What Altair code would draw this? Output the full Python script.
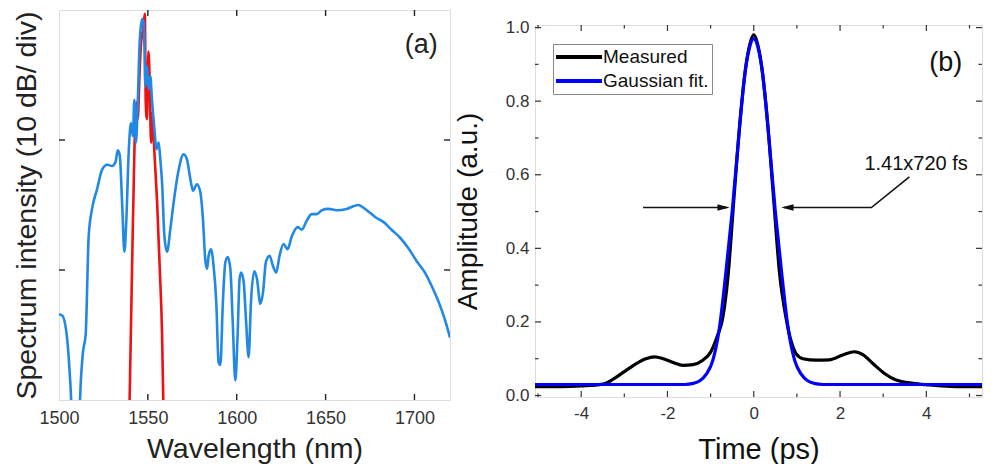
import altair as alt
import pandas as pd

FONT = "Liberation Sans"

# ---------------- panel (a): optical spectrum ----------------
spec_wl = [1500, 1501.8, 1504.6, 1506.5, 1507.3, 1511.4, 1512.3, 1513.5, 1515, 1516.7,
           1518.6, 1521.4, 1524.2, 1527.1, 1529.9, 1531.8, 1533.1, 1534.2, 1535.5, 1536.8,
           1537.9, 1539.2, 1540.5, 1541.6, 1542.4, 1543.3, 1544.3, 1545.4, 1546.7, 1547.7,
           1548.6, 1549.5, 1550.5, 1551.4, 1552.3, 1553.7, 1554.8, 1556.1, 1557.0, 1558.0,
           1559.3, 1560.8, 1562.6, 1564.5, 1567.3, 1570.1, 1572.0, 1573.9, 1575.4, 1577.6,
           1579.5, 1581.0, 1582.3, 1583.3, 1584.2, 1585.5, 1587.0, 1588.5, 1589.8, 1590.8,
           1592.2, 1593.6, 1595.0, 1596.4, 1597.7, 1599.2, 1600.5, 1601.6, 1602.5, 1603.9,
           1605.2, 1606.7, 1608.0, 1609.9, 1611.4, 1613.3, 1614.8, 1616.4, 1618.5, 1620.4,
           1622.2, 1624.1, 1626.3, 1628.6, 1631.0, 1634.4, 1636.6, 1639.4, 1642.2, 1645.1,
           1647.9, 1651.6, 1656.3, 1661.9, 1665.6, 1668.4, 1671.2, 1675.0, 1678.7, 1682.5,
           1687.1, 1691.8, 1696.5, 1701.2, 1705.9, 1710.6, 1714.3, 1717.1, 1720.0]
spec_db = [-23.4, -23.5, -25.3, -29.0, -31.0, -31.0, -28.5, -26.3, -25.0, -17.4,
           -15.3, -13.8, -12.3, -11.9, -12.0, -11.7, -10.8, -11.2, -14.8, -18.6,
           -16.1, -11.0, -8.7, -9.7, -6.9, -10.2, -7.1, -2.5, -0.7, -1.0,
           -5.9, -4.3, -6.1, -5.1, -6.9, -9.2, -10.7, -10.2, -11.5, -13.3,
           -17.4, -18.6, -16.9, -14.8, -12.3, -11.1, -11.5, -13.0, -13.9, -13.4,
           -14.0, -16.1, -19.2, -19.9, -18.9, -18.4, -19.7, -22.5, -27.1, -27.3,
           -22.5, -19.4, -19.0, -19.9, -23.8, -28.5, -25.0, -20.7, -20.2, -20.9,
           -23.8, -26.7, -22.5, -20.1, -20.7, -22.6, -21.7, -19.4, -18.9, -19.7,
           -20.2, -18.9, -18.0, -18.4, -17.4, -16.7, -16.9, -16.2, -15.7, -15.7,
           -15.4, -15.3, -15.4, -15.3, -15.1, -15.0, -15.2, -15.6, -16.0, -16.3,
           -16.9, -17.5, -18.3, -19.3, -20.2, -21.5, -22.7, -23.8, -25.2]

seed_wl = [1539.6, 1541.1, 1542.4, 1543.5, 1544.3, 1545.4, 1546.2, 1547.3, 1548.3, 1548.8,
           1549.5, 1550.3, 1551.0, 1551.8, 1552.5, 1553.7, 1555.2, 1556.7, 1558.0, 1558.8]
seed_db = [-31.0, -19.9, -11.0, -7.1, -8.4, -4.6, -2.5, -1.5, -0.3, -7.1,
           -8.4, -3.2, -5.3, -10.2, -7.9, -11.0, -14.8, -19.9, -25.0, -31.0]

a_xlabels = [1500, 1550, 1600, 1650, 1700]
a_xticks = [1550, 1600, 1650, 1700]
a_yticks_left = [-10, -20]
a_yticks_right = [-10, -20]
a_tag = ["(a)"]
a_tag_pos = [1703.8, -2.7]

# ---------------- panel (b): autocorrelation ----------------
meas_t = [-5.07, -4.5, -4.0, -3.5, -3.25, -3.0, -2.75, -2.5, -2.3, -2.1,
          -1.87, -1.64, -1.41, -1.18, -1.0, -0.85, -0.72, -0.6, -0.45, -0.3,
          -0.15, 0.0, 0.15, 0.3, 0.45, 0.6, 0.75, 0.87, 0.98, 1.14,
          1.45, 1.75, 2.06, 2.33, 2.53, 2.76, 3.03, 3.30, 3.69, 4.07,
          4.84, 5.55]
meas_amp = [0.024, 0.024, 0.026, 0.031, 0.045, 0.065, 0.085, 0.100, 0.105, 0.100,
            0.090, 0.082, 0.084, 0.096, 0.118, 0.160, 0.210, 0.320, 0.550, 0.770,
            0.920, 0.980, 0.920, 0.770, 0.550, 0.330, 0.210, 0.146, 0.114, 0.100,
            0.096, 0.097, 0.110, 0.119, 0.111, 0.087, 0.060, 0.042, 0.033, 0.029,
            0.024, 0.024]

fit_t = [-5.07, -1.6, -1.4, -1.25, -1.1, -0.95, -0.8, -0.65, -0.5, -0.35, -0.2, -0.1, 0.0,
         0.1, 0.2, 0.35, 0.5, 0.65, 0.8, 0.95, 1.1, 1.25, 1.4, 1.6, 5.55]
fit_amp = [0.030, 0.030, 0.033, 0.040, 0.058, 0.095, 0.180, 0.330, 0.500, 0.700, 0.880, 0.945, 0.970,
           0.945, 0.880, 0.700, 0.500, 0.330, 0.180, 0.095, 0.058, 0.040, 0.033, 0.030, 0.030]

series_names = ["Measured", "Gaussian fit."]
series_colors = ["#000000", "#0000ff"]

b_xlabels = [-4, -2, 0, 2, 4]
b_xmajor = [-4, -2, 0, 2, 4]
b_xminor = [-5, -3, -1, 1, 3, 5]
b_ylabels = [0.0, 0.2, 0.4, 0.6, 0.8, 1.0]
b_ymajor = [0.0, 0.2, 0.4, 0.6, 0.8, 1.0]
b_yminor = [0.1, 0.3, 0.5, 0.7, 0.9]

# annotation: FWHM arrows and label
arrow_left_t = [-2.565, -0.62]
arrow_right_t = [0.70, 2.727, 3.607]
arrow_right_amp = [0.511, 0.511, 0.594]
arrow_amp = 0.511
head_t = [-0.70, 0.78]
head_shape = ["M1,0L-1,-0.55L-1,0.55Z", "M-1,0L1,-0.55L1,0.55Z"]
note_text = ["1.41x720 fs"]
note_pos = [2.565, 0.612]
b_tag = ["(b)"]
b_tag_pos = [4.45, 0.903]

# ---------------- layout constants ----------------
AW, AH = 391, 390
BW, BH = 447, 372
AXIS_COLOR = "#222222"

ax = alt.Scale(domain=[1500, 1720], nice=False, zero=False)
ay = alt.Scale(domain=[-30, 0], nice=False, zero=False)
bx = alt.Scale(domain=[-5.07, 5.29], nice=False, zero=False)
by = alt.Scale(domain=[-0.004, 1.007], nice=False, zero=False)

PLAIN = "'' + datum.value"

AX_AXIS = alt.Axis(values=a_xlabels, title="Wavelength (nm)", labelExpr=PLAIN,
                   ticks=False, domain=False, grid=False, labelFlush=False, labelOverlap=False,
                   labelFont=FONT, labelFontSize=18, labelColor="#333333", labelPadding=9,
                   titleFont=FONT, titleFontSize=28.5, titleFontWeight="normal",
                   titleColor="#222222", titlePadding=7)
AY_AXIS = alt.Axis(labels=False, ticks=False, domain=False, grid=False,
                   title="Spectrum intensity (10 dB/ div)",
                   titleFont=FONT, titleFontSize=28.5, titleFontWeight="normal",
                   titleColor="#222222", titlePadding=18)
BX_AXIS = alt.Axis(values=b_xlabels, title="Time (ps)", labelExpr=PLAIN,
                   ticks=False, domain=False, grid=False, labelFlush=False, labelOverlap=False,
                   labelFont=FONT, labelFontSize=17, labelColor="#333333", labelPadding=8,
                   titleFont=FONT, titleFontSize=29, titleFontWeight="normal",
                   titleColor="#111111", titlePadding=14)
BY_AXIS = alt.Axis(values=b_ylabels, format=".1f", title="Amplitude (a.u.)",
                   ticks=False, domain=False, grid=False, labelFlush=False, labelOverlap=False,
                   labelFont=FONT, labelFontSize=17, labelColor="#333333", labelPadding=6,
                   titleFont=FONT, titleFontSize=28, titleFontWeight="normal",
                   titleColor="#111111", titlePadding=23)


def X(field, panel):
    if panel == "a":
        return alt.X(field, type="quantitative", scale=ax, axis=AX_AXIS)
    return alt.X(field, type="quantitative", scale=bx, axis=BX_AXIS)


def Y(field, panel):
    if panel == "a":
        return alt.Y(field, type="quantitative", scale=ay, axis=AY_AXIS)
    return alt.Y(field, type="quantitative", scale=by, axis=BY_AXIS)


def xtick_layers(vals, panel, length, H, color=AXIS_COLOR, width=1.4):
    d = pd.DataFrame({"v": vals})
    base = alt.Chart(d).mark_rule(color=color, strokeWidth=width)
    bot = base.encode(x=X("v", panel), y=alt.value(H), y2=alt.value(H - length))
    top = base.encode(x=X("v", panel), y=alt.value(0), y2=alt.value(length))
    return [bot, top]


def ytick_layer(vals, panel, length, W, side, color=AXIS_COLOR, width=1.4):
    d = pd.DataFrame({"v": vals})
    base = alt.Chart(d).mark_rule(color=color, strokeWidth=width)
    if side == "left":
        return base.encode(y=Y("v", panel), x=alt.value(0), x2=alt.value(length))
    return base.encode(y=Y("v", panel), x=alt.value(W), x2=alt.value(W - length))


# ---------------- panel (a) chart ----------------
spec_df = pd.DataFrame({"wl": spec_wl, "db": spec_db})
seed_df = pd.DataFrame({"wl": seed_wl, "db": seed_db})

a_seed = alt.Chart(seed_df).mark_line(color="#ee1111", strokeWidth=2.6, clip=True,
                                      interpolate="monotone").encode(x=X("wl", "a"), y=Y("db", "a"))
a_spec = alt.Chart(spec_df).mark_line(color="#2288e6", strokeWidth=2.6, clip=True,
                                      interpolate="monotone").encode(x=X("wl", "a"), y=Y("db", "a"))

a_tag_df = pd.DataFrame({"x": [a_tag_pos[0]], "y": [a_tag_pos[1]], "t": a_tag})
a_tag_layer = alt.Chart(a_tag_df).mark_text(font=FONT, fontSize=27, color="#222222").encode(
    x=X("x", "a"), y=Y("y", "a"), text="t:N")

panel_a = alt.layer(
    a_seed, a_spec, a_tag_layer,
    *xtick_layers(a_xticks, "a", 6, AH),
    ytick_layer(a_yticks_left, "a", 6, AW, "left"),
    ytick_layer(a_yticks_right, "a", 6, AW, "right"),
).properties(width=AW, height=AH)

# ---------------- panel (b) chart ----------------
color_scale = alt.Scale(domain=series_names, range=series_colors)

meas_df = pd.DataFrame({"t": meas_t, "amp": meas_amp, "series": series_names[0]})
fit_df = pd.DataFrame({"t": fit_t, "amp": fit_amp, "series": series_names[1]})

legend = alt.Legend(orient="none", legendX=18, legendY=34, title=None,
                    symbolType="M-1.3,0H4.7", symbolSize=235, symbolStrokeWidth=4,
                    symbolFillColor="transparent",
                    labelFont=FONT, labelFontSize=19, labelColor="#111111",
                    strokeColor="#888888", fillColor="white", padding=3,
                    rowPadding=4, labelOffset=27, symbolOffset=0, labelLimit=300)

b_meas = alt.Chart(meas_df).mark_line(strokeWidth=3.2, clip=True, interpolate="monotone").encode(
    x=X("t", "b"), y=Y("amp", "b"),
    color=alt.Color("series:N", scale=color_scale, legend=legend),
)
b_fit = alt.Chart(fit_df).mark_line(strokeWidth=3.2, clip=True, interpolate="monotone").encode(
    x=X("t", "b"), y=Y("amp", "b"),
    color=alt.Color("series:N", scale=color_scale, legend=legend),
)

arrow_l_df = pd.DataFrame({"t": arrow_left_t, "amp": [arrow_amp, arrow_amp], "o": [0, 1]})
arrow_r_df = pd.DataFrame({"t": arrow_right_t, "amp": arrow_right_amp, "o": [0, 1, 2]})
b_arrow_l = alt.Chart(arrow_l_df).mark_line(color="#111111", strokeWidth=1.6).encode(
    x=X("t", "b"), y=Y("amp", "b"), order="o:Q")
b_arrow_r = alt.Chart(arrow_r_df).mark_line(color="#111111", strokeWidth=1.6).encode(
    x=X("t", "b"), y=Y("amp", "b"), order="o:Q")
heads = []
for ht, hs in zip(head_t, head_shape):
    hdf = pd.DataFrame({"t": [ht], "amp": [arrow_amp]})
    heads.append(alt.Chart(hdf).mark_point(shape=hs, size=150, filled=True, color="#111111",
                                           opacity=1).encode(x=X("t", "b"), y=Y("amp", "b")))

note_df = pd.DataFrame({"t": [note_pos[0]], "amp": [note_pos[1]], "s": note_text})
b_note = alt.Chart(note_df).mark_text(font=FONT, fontSize=20, color="#111111",
                                      align="left", baseline="alphabetic").encode(
    x=X("t", "b"), y=Y("amp", "b"), text="s:N")
b_tag_df = pd.DataFrame({"t": [b_tag_pos[0]], "amp": [b_tag_pos[1]], "s": b_tag})
b_tag_layer = alt.Chart(b_tag_df).mark_text(font=FONT, fontSize=27, color="#111111").encode(
    x=X("t", "b"), y=Y("amp", "b"), text="s:N")

panel_b = alt.layer(
    b_meas, b_fit, b_arrow_l, b_arrow_r, *heads, b_note, b_tag_layer,
    *xtick_layers(b_xmajor, "b", 6, BH, color="#333333", width=1.2),
    *xtick_layers(b_xminor, "b", 3.5, BH, color="#333333", width=1.2),
    ytick_layer(b_ymajor, "b", 6, BW, "left", color="#333333", width=1.2),
    ytick_layer(b_yminor, "b", 3.5, BW, "left", color="#333333", width=1.2),
    ytick_layer(b_ymajor, "b", 6, BW, "right", color="#333333", width=1.2),
    ytick_layer(b_yminor, "b", 3.5, BW, "right", color="#333333", width=1.2),
).properties(width=BW, height=BH)

# invisible spacer that drops panel (b) a few pixels below panel (a)
spacer = alt.Chart(pd.DataFrame({"s": [0]})).mark_point(opacity=0).properties(
    width=20, height=8, view=alt.ViewBackground(stroke=None, strokeWidth=0))
right_col = alt.vconcat(spacer, panel_b, spacing=0)

chart = alt.hconcat(panel_a, right_col, spacing=1).resolve_scale(
    color="independent").resolve_legend(color="independent").properties(
    padding={"left": 3, "top": 0, "right": 0, "bottom": 0}
).configure_view(stroke="#222222", strokeWidth=1.5).configure(background="white")

chart.save("out.html", embed_options={"renderer": "svg", "actions": False})
